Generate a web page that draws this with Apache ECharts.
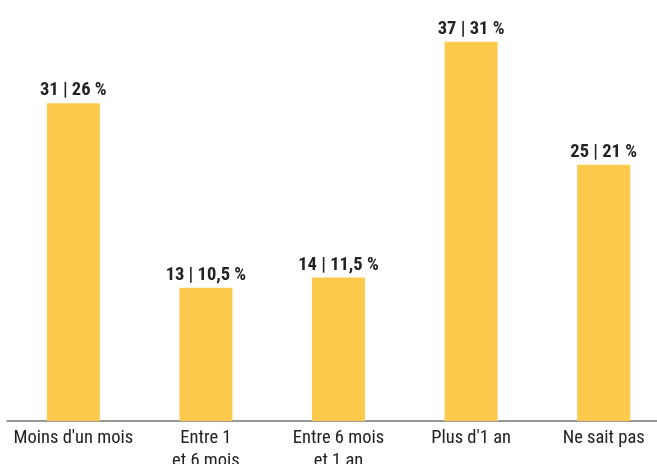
<!DOCTYPE html>
<html>
<head>
<meta charset="utf-8">
<script src="https://cdn.jsdelivr.net/npm/echarts@6/dist/echarts.min.js"></script>
<style>
html,body{margin:0;padding:0;background:#fff;}
#chart{width:657px;height:464px;}
</style>
</head>
<body>
<div id="chart"></div>
<script>
// catégories
var categories = ["Moins d'un mois", 'Entre 1\net 6 mois', 'Entre 6 mois\net 1 an', "Plus d'1 an", 'Ne sait pas'];
// nombre de réponses
var counts = [31, 13, 14, 37, 25];
// pourcentages
var percents = ['26', '10,5', '11,5', '31', '21'];

var font = "'Roboto Condensed', 'Liberation Sans Narrow', Roboto, sans-serif";

var option = {
    animation: false,
    grid: {
        left: 7,
        width: 663,
        top: 11,
        bottom: 43,
        outerBoundsMode: 'none',
        containLabel: false
    },
    xAxis: {
        type: 'category',
        data: categories,
        axisTick: { show: false },
        axisLine: {
            lineStyle: { color: '#777', width: 1.5 }
        },
        axisLabel: {
            color: '#222',
            fontSize: 18.5,
            fontFamily: font,
            lineHeight: 23,
            margin: 6,
            interval: 0
        }
    },
    yAxis: {
        type: 'value',
        min: 0,
        max: 40,
        show: false
    },
    series: [{
        type: 'bar',
        data: counts,
        barWidth: '40%',
        itemStyle: { color: '#FDCA4E' },
        label: {
            show: true,
            position: 'top',
            distance: 3,
            color: '#222',
            fontSize: 18.5,
            fontWeight: 'bold',
            fontFamily: font,
            formatter: function (p) {
                return p.value + ' | ' + percents[p.dataIndex] + ' %';
            }
        }
    }]
};
var myChart = echarts.init(document.getElementById('chart'));
myChart.setOption(option);
</script>
</body>
</html>
